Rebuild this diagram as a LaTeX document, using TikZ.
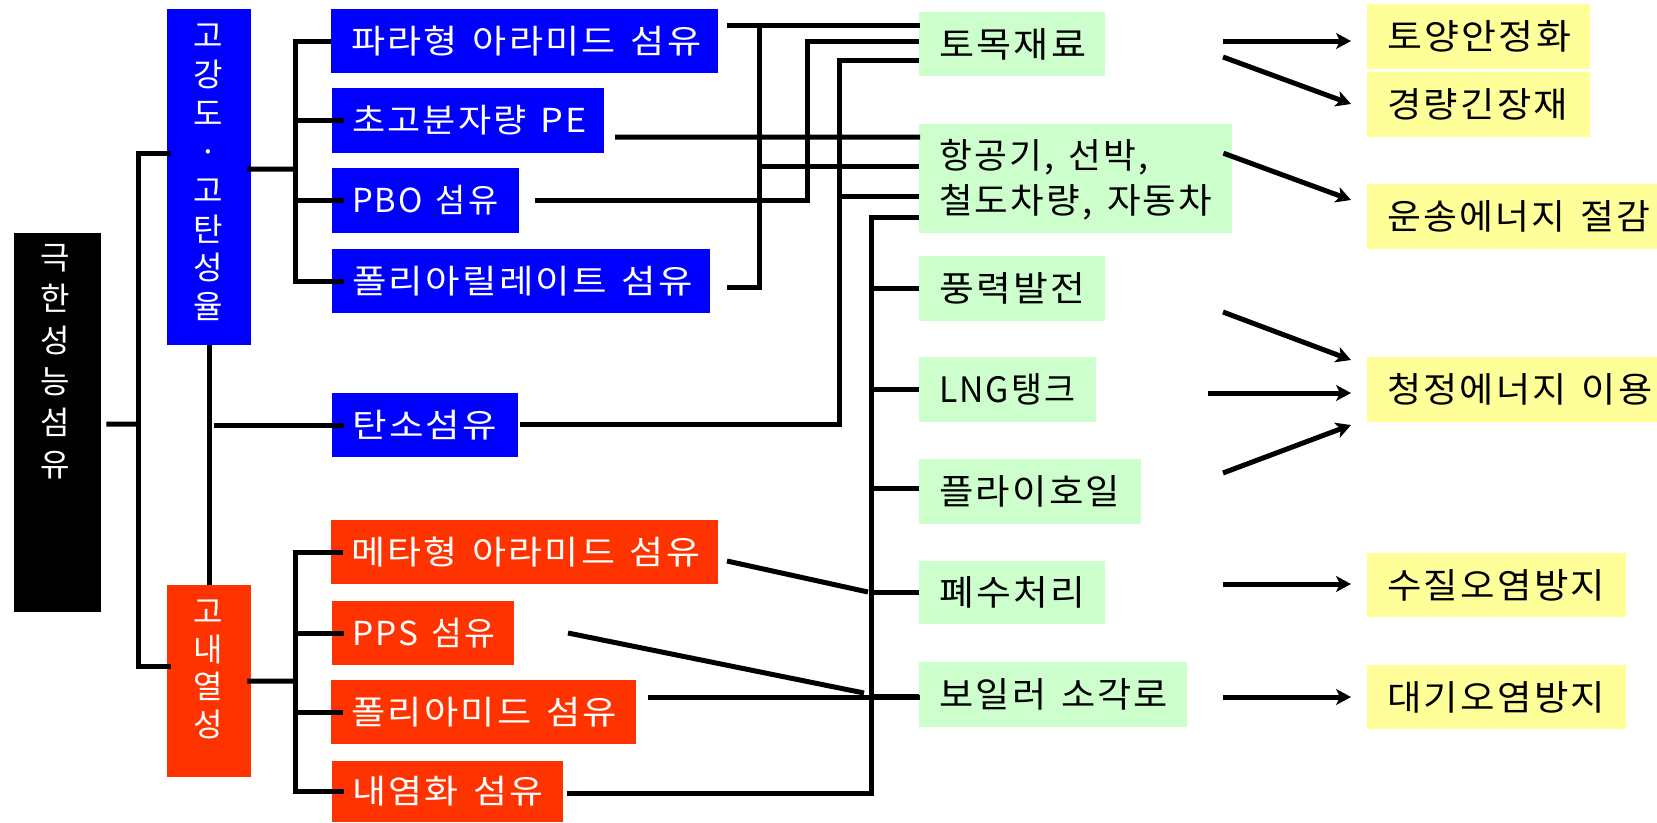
\documentclass[tikz,border=0pt]{standalone}
\usepackage{fontspec}
\usepackage{graphicx}
\newfontfamily\kr[LetterSpace=6, WordSpace=1.4]{Noto Sans CJK KR}
\newfontfamily\krp{Noto Sans CJK KR}
\usetikzlibrary{calc,arrows.meta}
\definecolor{cblue}{HTML}{0000FF}
\definecolor{cred}{HTML}{FF3300}
\definecolor{cgreen}{HTML}{CCFFCC}
\definecolor{cyellow}{HTML}{FFFF99}
\newcommand\fitw[2]{\resizebox{#1pt}{\height}{#2}}
\newcommand\mkbox[8]{%
  \node[#1, anchor=north west, inner sep=0pt, outer sep=0pt,
        minimum width={(#5-#3)*1pt}, minimum height={(#6-#4)*1pt}] (#2) at (#3,#4) {};
  \node[#1txt, anchor=west] at ($(#2.west)+(20,0)$) {\fitw{#7}{#8}};}
\begin{document}
\begin{tikzpicture}[x=1pt, y=-1pt,
  bbox/.style={fill=cblue}, bboxtxt/.style={text=white, inner sep=0pt, font=\kr\fontsize{33}{40}\selectfont},
  rbox/.style={fill=cred}, rboxtxt/.style={text=white, inner sep=0pt, font=\kr\fontsize{33}{40}\selectfont},
  gbox/.style={fill=cgreen}, gboxtxt/.style={text=black, inner sep=0pt, font=\kr\fontsize{35}{45}\selectfont},
  ybox/.style={fill=cyellow}, yboxtxt/.style={text=black, inner sep=0pt, font=\kr\fontsize{35}{40}\selectfont},
  kbox/.style={fill=black},
  vtxt/.style={text=white, align=center, inner sep=0pt},
  ln/.style={line width=5pt, line cap=butt, line join=miter},
  arr/.style={line width=5pt, -{Stealth[length=15pt, width=16pt, inset=4pt]}}]
\useasboundingbox (0,0) rectangle (1657,822);
% root and group boxes
\node[kbox, anchor=north west, inner sep=0pt, minimum width=87pt, minimum height=379pt] (root) at (14,233) {};
\node[vtxt, font=\krp\fontsize{32}{41.4}\selectfont] at (55,361.5) {극\\한\\성\\능\\섬\\유};
\node[bbox, anchor=north west, inner sep=0pt, minimum width=84pt, minimum height=336pt] (hs) at (167,9) {};
\node[vtxt, font=\krp\fontsize{32}{38.7}\selectfont] at (208,172.5) {고\\강\\도\\·\\고\\탄\\성\\율};
\node[rbox, anchor=north west, inner sep=0pt, minimum width=84pt, minimum height=192pt] (hr) at (167,585) {};
\node[vtxt, font=\krp\fontsize{32}{37.7}\selectfont] at (208,669.5) {고\\내\\열\\성};
% fibre boxes
\mkbox{bbox}{b1}{331}{9}{718}{73}{350}{파라형 아라미드 섬유}
\mkbox{bbox}{b2}{332}{88}{604}{153}{235}{초고분자량 PE}
\mkbox{bbox}{b3}{332}{168}{519}{233}{146}{PBO 섬유}
\mkbox{bbox}{b4}{332}{249}{710}{313}{341}{폴리아릴레이트 섬유}
\mkbox{bbox}{b5}{332}{393}{518}{457}{145}{탄소섬유}
\mkbox{rbox}{r1}{331}{520}{718}{584}{349}{메타형 아라미드 섬유}
\mkbox{rbox}{r2}{332}{601}{514}{665}{143}{PPS 섬유}
\mkbox{rbox}{r3}{331}{680}{636}{744}{266}{폴리아미드 섬유}
\mkbox{rbox}{r4}{332}{761}{563}{822}{191}{내염화 섬유}
% application boxes
\mkbox{gbox}{g1}{919}{12}{1105}{76}{147}{토목재료}
\node[gbox, anchor=north west, inner sep=0pt, minimum width=313pt, minimum height=109pt] (g2) at (919,124) {};
\node[gboxtxt, anchor=west, align=left] at ($(g2.west)+(20,1)$) {\fitw{209}{항공기, 선박,}\\\fitw{273}{철도차량, 자동차}};
\mkbox{gbox}{g3}{919}{256}{1105}{321}{146}{풍력발전}
\mkbox{gbox}{g4}{919}{357}{1096}{422}{136}{LNG탱크}
\mkbox{gbox}{g5}{919}{459}{1141}{524}{181}{플라이호일}
\mkbox{gbox}{g6}{919}{561}{1105}{624}{146}{폐수처리}
\mkbox{gbox}{g7}{919}{662}{1187}{727}{229}{보일러 소각로}
% effect boxes
\mkbox{ybox}{y1}{1367}{4}{1590}{69}{184}{토양안정화}
\mkbox{ybox}{y2}{1367}{72}{1590}{137}{181}{경량긴장재}
\mkbox{ybox}{y3}{1367}{184}{1657}{249}{263}{운송에너지 절감}
\mkbox{ybox}{y4}{1367}{357}{1657}{422}{265}{청정에너지 이용}
\mkbox{ybox}{y5}{1367}{553}{1626}{617}{218}{수질오염방지}
\mkbox{ybox}{y6}{1367}{665}{1626}{729}{218}{대기오염방지}
% left tree
\coordinate (j0) at (138,424);
\coordinate (j1) at (138,153);
\coordinate (j2) at (138,666);
\draw[ln] ($(root.east)+(5,1.5)$) -- (j0);
\draw[ln] ($(hs.west|-j1)+(4,0)$) -- (j1) -- (j2) -- ($(hr.west|-j2)+(4,0)$);
\draw[ln] (hs.south) -- (hr.north);
\draw[ln] ($(hs.south|-b5.west)+(5,0)$) -- ($(b5.west)+(12,0)$);
% blue tree
\coordinate (tb) at (295,169);
\draw[ln] ($(hs.east)+(-4,-8)$) -- (tb);
\draw[ln] (b1.west) -- (b1.west-|tb) -- (b4.west-|tb) -- ($(b4.west)+(12,0)$);
\draw[ln] (b2.west-|tb) -- ($(b2.west)+(12,0)$);
\draw[ln] (b3.west-|tb) -- ($(b3.west)+(12,0)$);
% red tree
\coordinate (tr) at (295,681);
\draw[ln] ($(hr.east)+(-4,0)$) -- (tr);
\draw[ln] ($(r1.west)+(12,0)$) -- (r1.west-|tr) -- (r4.west-|tr) -- ($(r4.west)+(12,0)$);
\draw[ln] (r2.west-|tr) -- ($(r2.west)+(12,0)$);
\draw[ln] (r3.west-|tr) -- ($(r3.west)+(12,0)$);
% fibre to application links
\coordinate (v1a) at (759,25);
\coordinate (v1b) at (759,287);
\coordinate (v1c) at (759,166);
\draw[ln] ($(b1.east)+(9,-16)$) -- ($(g1.west)+(1,-19)$);
\draw[ln] ($(b4.east)+(17,6)$) -- (v1b) -- (v1a);
\draw[ln] (v1c) -- (v1c-|g2.west);
\coordinate (v2a) at (807,41);
\coordinate (v2b) at (807,200.5);
\draw[ln] ($(b3.east)+(16,0)$) -- (v2b) -- (v2a) -- (v2a-|g1.west);
\draw[ln] ($(b2.east)+(11,16.5)$) -- ($(g2.west)+(1,-41.5)$);
\coordinate (v3a) at (839,60);
\coordinate (v3b) at (839,424);
\coordinate (v3c) at (839,196);
\draw[ln] ($(b5.east)+(2,-1)$) -- (v3b) -- (v3a) -- (v3a-|g1.west);
\draw[ln] (v3c) -- (v3c-|g2.west);
\coordinate (v4a) at (871,217);
\coordinate (v4b) at (871,793);
\draw[ln] (v4a-|g2.west) -- (v4a) -- (v4b) -- ($(r4.east)+(4,1.5)$);
\draw[ln] (g3.west-|v4a) -- (g3.west);
\draw[ln] (g4.west-|v4a) -- (g4.west);
\draw[ln] ($(g5.west-|v4a)+(0,-3.5)$) -- ($(g5.west)+(0,-3.5)$);
\draw[ln] (g6.west-|v4a) -- (g6.west);
\draw[ln] ($(g7.west-|v4a)+(0,1.5)$) -- ($(g7.west)+(0,1.5)$);
\draw[ln] ($(r1.east)+(9,9)$) -- ($(g6.west-|v4a)+(-3,-0.5)$);
\draw[ln] ($(r2.east)+(54,0)$) -- ($(g7.west-|v4a)+(-7,-1.5)$);
\draw[ln] ($(r3.east)+(12,-15)$) -- ($(g7.west)+(1,2.5)$);
% arrows to effects
\draw[arr] ($(g1.east)+(118,-3)$) -- ($(y1.west)+(-16,4.5)$);
\draw[arr] ($(g1.east)+(118,13)$) -- ($(y2.west)+(-16,-0.5)$);
\draw[arr] ($(g2.east)+(-9,-25.5)$) -- ($(y3.west)+(-16,-16.5)$);
\draw[arr] ($(g3.east)+(118,23.5)$) -- ($(y4.west)+(-16,-29.5)$);
\draw[arr] ($(g4.east)+(112,3.5)$) -- ($(y4.west)+(-16,3.5)$);
\draw[arr] ($(g5.east)+(82,-18.5)$) -- ($(y4.west)+(-16,35.5)$);
\draw[arr] ($(g6.east)+(118,-8.5)$) -- ($(y5.west)+(-16,-1)$);
\draw[arr] ($(g7.east)+(36,2.5)$) -- ($(y6.west)+(-16,0)$);
\end{tikzpicture}
\end{document}
